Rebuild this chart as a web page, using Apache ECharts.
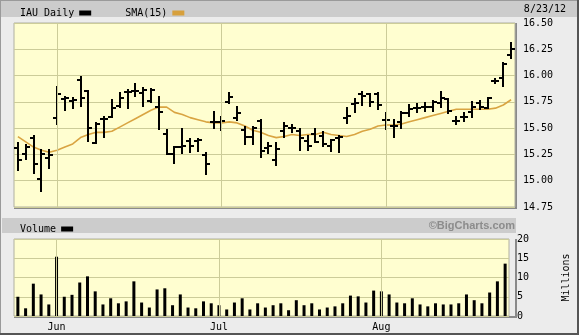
<!DOCTYPE html>
<html>
<head>
<meta charset="utf-8">
<script src="https://cdn.jsdelivr.net/npm/echarts@6/dist/echarts.min.js"></script>
<style>html,body{margin:0;padding:0;background:#ececec;}#c{width:579px;height:335px;}</style>
</head>
<body>
<div id="c"></div>
<script>
var dates = ['5/24','5/25','5/29','5/30','5/31',
 '6/1','6/4','6/5','6/6','6/7','6/8','6/11','6/12','6/13','6/14','6/15','6/18','6/19','6/20','6/21','6/22','6/25','6/26','6/27','6/28','6/29',
 '7/2','7/3','7/5','7/6','7/9','7/10','7/11','7/12','7/13','7/16','7/17','7/18','7/19','7/20','7/23','7/24','7/25','7/26','7/27','7/30','7/31',
 '8/1','8/2','8/3','8/6','8/7','8/8','8/9','8/10','8/13','8/14','8/15','8/16','8/17','8/20','8/21','8/22','8/23'];
var opens  = [15.31,15.25,15.41,15.02,15.22, 15.60,15.78,15.76,15.96,15.85,15.36,15.59,15.61,15.71,15.84,15.85,15.83,15.76,15.70,15.44,15.25,15.32,15.38,15.38,15.24,15.56,
 15.56,15.75,15.60,15.48,15.42,15.57,15.31,15.20,15.47,15.50,15.47,15.38,15.44,15.43,15.33,15.41,15.60,15.73,15.82,15.82,15.82,
 15.58,15.52,15.56,15.64,15.69,15.70,15.70,15.74,15.78,15.57,15.61,15.65,15.74,15.69,15.95,15.98,16.20];
var highs  = [15.36,15.34,15.43,15.29,15.29, 15.89,15.80,15.79,15.99,15.85,15.55,15.61,15.77,15.83,15.86,15.92,15.88,15.87,15.80,15.48,15.32,15.49,15.40,15.40,15.26,15.65,
 15.61,15.83,15.70,15.51,15.51,15.58,15.36,15.36,15.55,15.53,15.49,15.43,15.49,15.46,15.39,15.43,15.69,15.78,15.84,15.82,15.83,
 15.64,15.58,15.65,15.72,15.73,15.74,15.76,15.84,15.78,15.61,15.64,15.75,15.76,15.79,15.97,16.12,16.31];
var lows   = [15.10,15.21,15.07,14.90,15.12, 15.54,15.67,15.69,15.71,15.38,15.36,15.42,15.61,15.70,15.69,15.81,15.71,15.75,15.49,15.25,15.17,15.26,15.27,15.28,15.06,15.50,
 15.48,15.74,15.58,15.35,15.35,15.23,15.26,15.15,15.42,15.46,15.29,15.29,15.37,15.33,15.28,15.27,15.55,15.65,15.72,15.71,15.68,
 15.49,15.42,15.50,15.62,15.65,15.66,15.66,15.70,15.64,15.54,15.57,15.61,15.68,15.69,15.93,15.90,16.17];
var closes = [15.20,15.32,15.16,15.25,15.24, 15.82,15.79,15.77,15.79,15.50,15.54,15.59,15.69,15.79,15.84,15.85,15.86,15.86,15.65,15.25,15.32,15.33,15.33,15.39,15.16,15.56,
 15.57,15.80,15.64,15.42,15.50,15.28,15.33,15.30,15.52,15.50,15.41,15.33,15.37,15.35,15.39,15.42,15.62,15.74,15.81,15.75,15.72,
 15.58,15.52,15.64,15.68,15.69,15.70,15.75,15.79,15.66,15.57,15.61,15.70,15.70,15.79,15.95,16.11,16.25];
var sma15  = [15.42,15.37,15.32,15.29,15.27, 15.29,15.32,15.35,15.41,15.44,15.46,15.46,15.47,15.51,15.55,15.59,15.63,15.67,15.70,15.70,15.65,15.63,15.60,15.58,15.56,15.55,
 15.55,15.56,15.55,15.52,15.48,15.46,15.43,15.41,15.42,15.44,15.43,15.44,15.44,15.46,15.44,15.43,15.42,15.44,15.47,15.49,15.52,
 15.53,15.53,15.54,15.56,15.58,15.60,15.62,15.64,15.66,15.68,15.68,15.68,15.68,15.68,15.69,15.72,15.77];
var volumes = [5.0,2.0,8.4,5.6,3.0, 15.4,5.0,5.5,8.7,10.3,6.4,3.0,4.6,3.3,3.8,9.0,3.5,2.2,6.9,7.2,2.8,5.6,2.2,2.0,3.8,3.3,
 2.8,1.7,3.5,4.6,1.7,3.3,2.2,2.8,3.3,1.5,4.1,2.8,3.3,1.7,2.2,2.5,3.3,5.3,5.1,3.5,6.6,
 6.4,5.6,3.5,3.3,4.6,3.0,2.5,3.3,3.0,3.0,3.3,5.6,4.1,3.3,6.1,9.0,13.6];
var monthTicks = ['6/1','7/2','8/1'];
var monthNames = ['Jun','Jul','Aug'];
var priceTicks = {min:14.75, max:16.50, step:0.25};
var volTicks = {min:0, max:20, step:5};

var MONO = 'DejaVu Sans Mono';
var GRIDC = '#cccc99';
var ohlc = dates.map(function(d,i){ return [i, opens[i], highs[i], lows[i], closes[i]]; });
var blanks = dates.map(function(){ return null; });

var chart = echarts.init(document.getElementById('c'), null, {renderer:'canvas'});
var monthMark = {
  silent:true, symbol:['none','none'], label:{show:false},
  lineStyle:{color:GRIDC, type:'solid', width:1},
  data: monthTicks.map(function(m){ return {xAxis:m}; })
};
chart.setOption({
  animation:false,
  backgroundColor:'#ececec',
  graphic:[
    {type:'rect', z:-10, shape:{x:0,y:0,width:579,height:17}, style:{fill:'#cccccc'}},
    {type:'rect', z:-10, shape:{x:0,y:0,width:579,height:1}, style:{fill:'#9a9a9a'}},
    {type:'rect', z:-10, shape:{x:0,y:0,width:1,height:335}, style:{fill:'#9a9a9a'}},
    {type:'rect', z:-10, shape:{x:2,y:218,width:514,height:15}, style:{fill:'#cccccc'}},
    {type:'rect', z:-10, shape:{x:0,y:333,width:579,height:2}, style:{fill:'#555555'}},
    {type:'rect', z:-10, shape:{x:577,y:0,width:2,height:335}, style:{fill:'#555555'}},
    {type:'rect', z:-10, shape:{x:14,y:207,width:503,height:2}, style:{fill:'#8a8a8a'}},
    {type:'rect', z:-10, shape:{x:515,y:23,width:2,height:186}, style:{fill:'#8a8a8a'}},
    {type:'rect', z:-10, shape:{x:14,y:316,width:503,height:2}, style:{fill:'#8a8a8a'}},
    {type:'rect', z:-10, shape:{x:515,y:239,width:2,height:79}, style:{fill:'#8a8a8a'}},
    {type:'text', z:10, x:566, y:9, style:{text:'8/23/12', font:'10px "'+MONO+'"', fill:'#000', textAlign:'right', textVerticalAlign:'middle'}},
    {type:'text', z:10, x:515, y:226, style:{text:'\u00a9BigCharts.com', font:'bold 11px "Liberation Sans"', fill:'#8c8c8c', textAlign:'right', textVerticalAlign:'middle'}}
  ],
  legend:[
    {left:15, top:3, selectedMode:false, align:'right', itemWidth:12, itemHeight:5, itemGap:34, icon:'rect',
     data:['IAU Daily','SMA(15)'], textStyle:{fontFamily:MONO, fontSize:10, color:'#000'}},
    {left:15, top:219, selectedMode:false, align:'right', itemWidth:12, itemHeight:5, icon:'rect',
     data:['Volume'], textStyle:{fontFamily:MONO, fontSize:10, color:'#000'}}
  ],
  grid:[
    {left:14, right:64, top:23, height:184, show:true, backgroundColor:'#fffed0', borderColor:'#b0b0a0', borderWidth:1},
    {left:14, right:64, top:239, height:77, show:true, backgroundColor:'#fffed0', borderColor:'#b0b0a0', borderWidth:1}
  ],
  xAxis:[
    {type:'category', gridIndex:0, data:dates, boundaryGap:true, axisLabel:{show:false}, axisTick:{show:false}, axisLine:{show:false}, splitLine:{show:false}},
    {type:'category', gridIndex:1, data:dates, boundaryGap:true, axisTick:{show:false}, axisLine:{show:false}, splitLine:{show:false},
     axisLabel:{show:true, margin:6, fontFamily:MONO, fontSize:10, color:'#000',
       interval:function(i, v){ return monthTicks.indexOf(v) >= 0; },
       formatter:function(v){ var k = monthTicks.indexOf(v); return k >= 0 ? monthNames[k] : ''; }}}
  ],
  yAxis:[
    {type:'value', gridIndex:0, position:'right', min:priceTicks.min, max:priceTicks.max, interval:priceTicks.step,
     axisLine:{show:false}, axisTick:{show:false},
     axisLabel:{margin:8, fontFamily:MONO, fontSize:10, color:'#000', formatter:function(v){ return v.toFixed(2); }},
     splitLine:{lineStyle:{color:GRIDC, width:1}}},
    {type:'value', gridIndex:1, position:'right', min:volTicks.min, max:volTicks.max, interval:volTicks.step,
     axisLine:{show:false}, axisTick:{show:false},
     name:'Millions', nameLocation:'middle', nameGap:52, nameRotate:90,
     nameTextStyle:{fontFamily:MONO, fontSize:10, color:'#000'},
     axisLabel:{margin:8, fontFamily:MONO, fontSize:10, color:'#000'},
     splitLine:{lineStyle:{color:GRIDC, width:1}}}
  ],
  series:[
    {name:'gridPrice', type:'line', xAxisIndex:0, yAxisIndex:0, data:blanks, symbol:'none', z:1, silent:true,
     lineStyle:{opacity:0}, markLine:monthMark},
    {name:'gridVol', type:'line', xAxisIndex:1, yAxisIndex:1, data:blanks, symbol:'none', z:1, silent:true,
     lineStyle:{opacity:0}, markLine:monthMark},
    {name:'SMA(15)', type:'line', xAxisIndex:0, yAxisIndex:0, data:sma15, symbol:'none', smooth:false, z:2,
     itemStyle:{color:'#d7a03c'}, lineStyle:{color:'#d9a442', width:1.6}},
    {name:'IAU Daily', type:'custom', xAxisIndex:0, yAxisIndex:0, z:3, data:ohlc,
     itemStyle:{color:'#000'},
     encode:{x:0, y:[1,2,3,4]},
     renderItem:function(params, api){
       var i = api.value(0);
       var o = api.coord([i, api.value(1)]);
       var h = api.coord([i, api.value(2)]);
       var l = api.coord([i, api.value(3)]);
       var c = api.coord([i, api.value(4)]);
       var cx = Math.round(o[0]);
       var st = {stroke:'#000', lineWidth:2};
       return {type:'group', children:[
         {type:'line', shape:{x1:cx, y1:Math.round(h[1])-1, x2:cx, y2:Math.round(l[1])+1}, style:st},
         {type:'line', shape:{x1:cx-4, y1:Math.round(o[1]), x2:cx, y2:Math.round(o[1])}, style:st},
         {type:'line', shape:{x1:cx, y1:Math.round(c[1]), x2:cx+4, y2:Math.round(c[1])}, style:st}
       ]};
     }},
    {name:'Volume', type:'bar', xAxisIndex:1, yAxisIndex:1, data:volumes, barWidth:3, z:3,
     itemStyle:{color:'#000'}}
  ]
});
</script>
</body>
</html>
